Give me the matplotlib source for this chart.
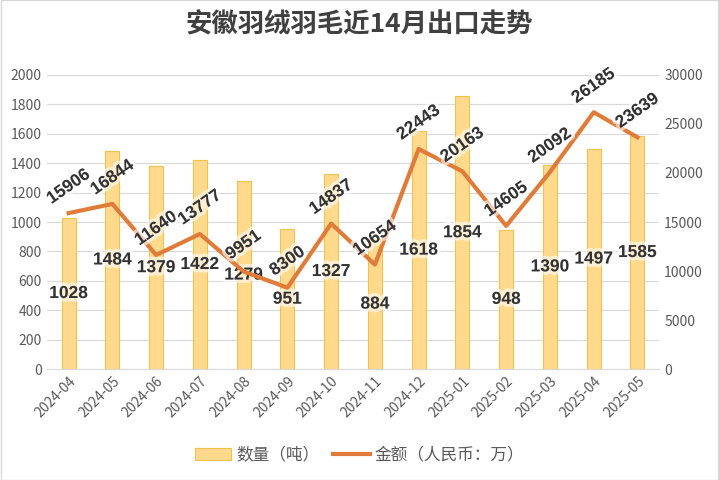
import numpy as np
import matplotlib
matplotlib.use("Agg")
import matplotlib.pyplot as plt
import matplotlib.patheffects as pe

plt.rcParams['font.family'] = ['Noto Sans CJK SC', 'DejaVu Sans']

months = ['2024-04', '2024-05', '2024-06', '2024-07', '2024-08', '2024-09', '2024-10',
          '2024-11', '2024-12', '2025-01', '2025-02', '2025-03', '2025-04', '2025-05']
qty = [1028, 1484, 1379, 1422, 1279, 951, 1327, 884, 1618, 1854, 948, 1390, 1497, 1585]  # 吨
amount = [15906, 16844, 11640, 13777, 9951, 8300, 14837, 10654, 22443, 20163, 14605,
          20092, 26185, 23639]  # 万元

title_name = "安徽羽绒羽毛近14月出口走势"

fig = plt.figure(figsize=(7.19, 4.8), dpi=100)
ax1 = fig.add_axes([0.065, 0.231, 0.852, 0.613])
ax2 = ax1.twinx()

x = np.arange(len(months))
glow = [pe.withStroke(linewidth=5, foreground='white', alpha=0.6)]

bars = ax1.bar(x, qty, width=0.32, color='#FFD98C', edgecolor='#F2C14E', linewidth=0.8,
               label='数量（吨）', zorder=2)
for xi, q in zip(x, qty):
    ax1.text(xi, q / 2, str(q), ha='center', va='center', fontsize=12.5, fontweight='bold',
             color='#333333', family='Liberation Sans', path_effects=glow, zorder=5)

ax2.plot(x, amount, color='#E07B39', linewidth=3, label='金额（人民币：万）', zorder=3)
for xi, a in zip(x, amount):
    ax2.annotate(str(a), (xi, a), xytext=(0, 19), textcoords='offset points',
                 ha='center', va='center', rotation=35, fontsize=12.5, fontweight='bold',
                 color='#333333', family='Liberation Sans', path_effects=glow, zorder=6)

ax1.set_ylim(0, 2000)
ax1.set_yticks(np.arange(0, 2001, 200))
ax2.set_ylim(0, 30000)
ax2.set_yticks(np.arange(0, 30001, 5000))
ax1.set_xlim(-0.5, len(months) - 0.5)
ax1.set_xticks(x)
ax1.set_xticklabels(months, rotation=45, ha='right', rotation_mode='anchor')

ax1.grid(axis='y', color='#d9d9d9', linewidth=0.8, zorder=0)
ax1.set_axisbelow(True)
for a in (ax1, ax2):
    for s in a.spines.values():
        s.set_visible(False)
    a.tick_params(length=0, colors='#595959', labelsize=10)
ax1.spines['bottom'].set_visible(True)
ax1.spines['bottom'].set_color('#d9d9d9')
ax2.set_zorder(ax1.get_zorder() + 1)
ax2.patch.set_visible(False)

fig.text(0.5, 0.948, title_name, ha='center', va='center', fontsize=19, fontweight='bold',
         color='#404040')

h1, l1 = ax1.get_legend_handles_labels()
h2, l2 = ax2.get_legend_handles_labels()
fig.legend(h1 + h2, l1 + l2, loc='center', bbox_to_anchor=(0.5, 0.052), ncol=2, frameon=False,
           fontsize=12, labelcolor='#595959', handlelength=2.2, columnspacing=0.8,
           handletextpad=0.3)

fig.patches.append(plt.Rectangle((0.001, 0.001), 0.998, 0.998, transform=fig.transFigure,
                                 fill=False, edgecolor='#d9d9d9', linewidth=1))

fig.savefig("out.png", dpi=100)
